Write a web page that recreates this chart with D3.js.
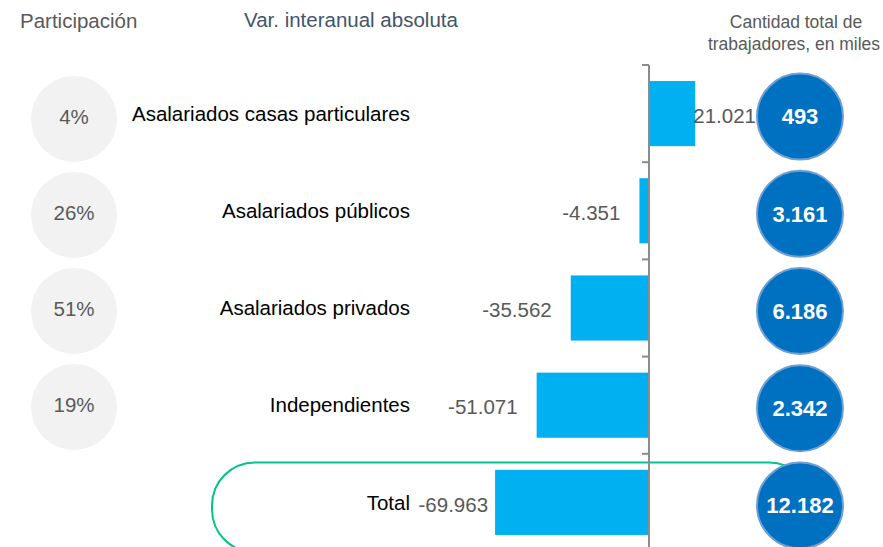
<!DOCTYPE html>
<html>
    <head>
        <meta charset="utf-8">
        <title>Trabajadores</title>
        <style>
        html, body{
            margin: 0;
            border: 0;
            background: white;
        }
        svg{
            display: block;
            font-family: "Liberation Sans", Arial, sans-serif;
        }
        </style>
    </head>
    <body>
        <svg width="883" height="547"></svg>

        <script src="https://cdnjs.cloudflare.com/ajax/libs/d3/7.8.5/d3.min.js"></script>
        <script>
            // datos
            let categorias = ["Asalariados casas particulares", "Asalariados públicos", "Asalariados privados", "Independientes", "Total"];
            let variacion = [21021, -4351, -35562, -51071, -69963];
            let cantidad = [493, 3161, 6186, 2342, 12182];
            let participacion = [4, 26, 51, 19];

            let width = 883;
            let height = 547;

            let es = d3.formatLocale({decimal: ",", thousands: ".", grouping: [3], currency: ["$", ""], minus: "-"});
            let fmt = es.format(",d");

            let data = categorias.map((c, i) => ({name: c, v: variacion[i], n: cantidad[i], p: participacion[i]}));

            let svg = d3.select("svg");

            let yScale = d3.scaleBand()
                .domain(categorias)
                .range([65, 551])
                .paddingInner(0.33)
                .paddingOuter(0.165);
            let step = yScale.step();
            let center = c => yScale(c) + yScale.bandwidth() / 2;

            let xScale = d3.scaleLinear()
                .domain([-70000, 0])
                .range([495, 649]);

            let yPart = d3.scalePoint()
                .domain(categorias.slice(0, 4))
                .range([119, 407]);

            // titulos
            svg.append("text")
                .attr("x", 20).attr("y", 21)
                .attr("dy", "0.35em")
                .attr("font-size", 20.5)
                .attr("fill", "#595959")
                .text("Participación");
            svg.append("text")
                .attr("x", 244).attr("y", 20)
                .attr("dy", "0.35em")
                .attr("font-size", 20.5)
                .attr("fill", "#44546A")
                .text("Var. interanual absoluta");
            svg.append("text")
                .attr("x", 796).attr("y", 22)
                .attr("dy", "0.35em")
                .attr("text-anchor", "middle")
                .attr("font-size", 17.5)
                .attr("fill", "#595959")
                .text("Cantidad total de");
            svg.append("text")
                .attr("x", 794).attr("y", 44)
                .attr("dy", "0.35em")
                .attr("text-anchor", "middle")
                .attr("font-size", 17.5)
                .attr("fill", "#595959")
                .text("trabajadores, en miles");

            // contorno del total
            let yTot = center("Total");
            svg.append("rect")
                .attr("x", 212)
                .attr("y", yTot + 3 - 43)
                .attr("width", 600)
                .attr("height", 90)
                .attr("rx", 43).attr("ry", 43)
                .attr("fill", "none")
                .attr("stroke", "#00C48C")
                .attr("stroke-width", 2);

            // circulos de participacion
            let part = svg.append("g");
            part.selectAll("circle")
                .data(data.filter(d => d.p != null))
                .enter()
                .append("circle")
                .attr("cx", 74)
                .attr("cy", d => yPart(d.name))
                .attr("r", 43)
                .attr("fill", "#F2F2F2");
            part.selectAll("text")
                .data(data.filter(d => d.p != null))
                .enter()
                .append("text")
                .attr("x", 74)
                .attr("y", d => yPart(d.name) - 2)
                .attr("dy", "0.35em")
                .attr("text-anchor", "middle")
                .attr("font-size", 20.5)
                .attr("fill", "#595959")
                .text(d => d.p + "%");

            // barras
            svg.append("g")
                .selectAll("rect")
                .data(data)
                .enter()
                .append("rect")
                .attr("x", d => xScale(Math.min(0, d.v)))
                .attr("y", d => yScale(d.name))
                .attr("width", d => Math.abs(xScale(d.v) - xScale(0)))
                .attr("height", yScale.bandwidth())
                .attr("fill", "#00B0F0");

            // eje
            let axis = svg.append("g")
                .attr("stroke", "#8C8C8C")
                .attr("stroke-width", 2);
            axis.append("line")
                .attr("x1", xScale(0)).attr("x2", xScale(0))
                .attr("y1", 65).attr("y2", height);
            axis.selectAll(".tick")
                .data(categorias)
                .enter()
                .append("line")
                .attr("class", "tick")
                .attr("x1", xScale(0) - 7).attr("x2", xScale(0))
                .attr("y1", d => yScale(d) - step * 0.165)
                .attr("y2", d => yScale(d) - step * 0.165);

            // etiquetas de categoria
            svg.append("g")
                .selectAll("text")
                .data(data)
                .enter()
                .append("text")
                .attr("x", 410)
                .attr("y", d => center(d.name))
                .attr("dy", "0.35em")
                .attr("text-anchor", "end")
                .attr("font-size", 20.5)
                .attr("fill", "#000")
                .text(d => d.name);

            // etiquetas de valor
            svg.append("g")
                .selectAll("text")
                .data(data)
                .enter()
                .append("text")
                .attr("x", d => d.v >= 0 ? xScale(d.v) - 2 : xScale(d.v) - (d.name == "Total" ? 7 : 19))
                .attr("y", d => center(d.name) + 2)
                .attr("dy", "0.35em")
                .attr("text-anchor", d => d.v >= 0 ? "start" : "end")
                .attr("font-size", 20.5)
                .attr("fill", "#595959")
                .text(d => fmt(d.v));

            // circulos de cantidad total
            let tot = svg.append("g");
            tot.selectAll("circle")
                .data(data)
                .enter()
                .append("circle")
                .attr("cx", 800)
                .attr("cy", d => center(d.name) + 3)
                .attr("r", 43)
                .attr("fill", "#0070C0")
                .attr("stroke", "#6C9FD6")
                .attr("stroke-width", 2);
            tot.selectAll("text")
                .data(data)
                .enter()
                .append("text")
                .attr("x", 800)
                .attr("y", d => center(d.name) + 3)
                .attr("dy", "0.35em")
                .attr("text-anchor", "middle")
                .attr("font-size", 22)
                .attr("font-weight", "bold")
                .attr("fill", "white")
                .text(d => fmt(d.n));
        </script>
    </body>
</html>
